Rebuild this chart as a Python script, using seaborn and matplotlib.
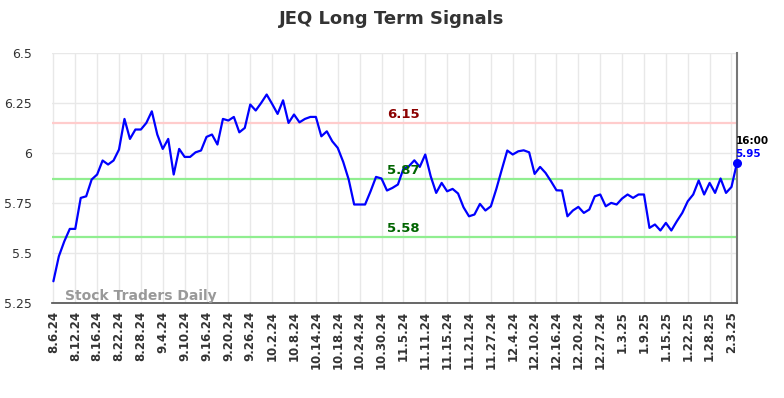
import matplotlib
matplotlib.use("Agg")
import matplotlib.pyplot as plt
import matplotlib.ticker as mticker
import seaborn as sns
import pandas as pd

title = "JEQ Long Term Signals"
prices = [
    5.358, 5.483, 5.558, 5.62, 5.62, 5.775, 5.783, 5.867, 5.892, 5.962,
    5.942, 5.962, 6.017, 6.17, 6.07, 6.117, 6.117, 6.15, 6.208, 6.092,
    6.02, 6.07, 5.892, 6.02, 5.98, 5.98, 6.003, 6.012, 6.08, 6.092,
    6.042, 6.17, 6.162, 6.18, 6.103, 6.125, 6.242, 6.212, 6.25, 6.292,
    6.245, 6.195, 6.263, 6.15, 6.192, 6.153, 6.17, 6.18, 6.18, 6.083,
    6.108, 6.058, 6.025, 5.955, 5.867, 5.742, 5.742, 5.742, 5.808, 5.88,
    5.872, 5.812, 5.825, 5.842, 5.92, 5.933, 5.963, 5.93, 5.992, 5.883,
    5.80, 5.85, 5.808, 5.82, 5.797, 5.728, 5.683, 5.692, 5.745, 5.712,
    5.733, 5.82, 5.917, 6.012, 5.992, 6.008, 6.013, 6.003, 5.895, 5.93,
    5.90, 5.858, 5.813, 5.812, 5.683, 5.712, 5.73, 5.70, 5.717, 5.783,
    5.792, 5.733, 5.75, 5.742, 5.772, 5.792, 5.775, 5.792, 5.792, 5.625,
    5.642, 5.612, 5.65, 5.612, 5.658, 5.70, 5.758, 5.792, 5.862, 5.792,
    5.85, 5.80, 5.872, 5.80, 5.83, 5.95,
]
tick_labels = [
    "8.6.24", "8.12.24", "8.16.24", "8.22.24", "8.28.24", "9.4.24", "9.10.24",
    "9.16.24", "9.20.24", "9.26.24", "10.2.24", "10.8.24", "10.14.24",
    "10.18.24", "10.24.24", "10.30.24", "11.5.24", "11.11.24", "11.15.24",
    "11.21.24", "11.27.24", "12.4.24", "12.10.24", "12.16.24", "12.20.24",
    "12.27.24", "1.3.25", "1.9.25", "1.15.25", "1.22.25", "1.28.25", "2.3.25",
]
tick_step = 4
resistance = 6.15
support_levels = [5.87, 5.58]
last_time = "16:00"
y_ticks = [5.25, 5.5, 5.75, 6.0, 6.25, 6.5]

df = pd.DataFrame({"idx": range(len(prices)), "price": prices})

sns.set_theme(style="whitegrid")
plt.rcParams["font.family"] = ["DejaVu Sans"]

fig = plt.figure(figsize=(7.84, 3.98), dpi=100)
ax = fig.add_axes([0.066, 0.239, 0.874, 0.628])

ax.axhline(resistance, color="#ffcccc", lw=1.6, zorder=1)
for s in support_levels:
    ax.axhline(s, color="#90ee90", lw=1.6, zorder=1)

sns.lineplot(data=df, x="idx", y="price", ax=ax, color="blue", lw=1.6, zorder=3)

n = len(prices)
last = n - 1
ax.scatter([last], [prices[-1]], color="blue", s=30, zorder=4, clip_on=False)

mid = 64
ax.text(mid, resistance + 0.008, f"{resistance:.2f}", color="darkred",
        fontsize=9.5, fontweight="bold", ha="center", va="bottom")
for s in support_levels:
    ax.text(mid, s + 0.008, f"{s:.2f}", color="darkgreen",
            fontsize=9.5, fontweight="bold", ha="center", va="bottom")

ax.annotate(last_time, (last, prices[-1]), xytext=(-1, 12),
            textcoords="offset points", color="black", fontsize=7.5,
            fontweight="bold", ha="left", va="bottom", annotation_clip=False)
ax.annotate(f"{prices[-1]:.2f}", (last, prices[-1]), xytext=(-1, 3),
            textcoords="offset points", color="blue", fontsize=7.5,
            fontweight="bold", ha="left", va="bottom", annotation_clip=False)

ax.set_xlim(-0.3, last)
ax.set_ylim(5.25, 6.5)
ax.set_yticks(y_ticks)
ax.yaxis.set_major_formatter(mticker.FuncFormatter(lambda v, p: f"{v:g}"))
ticks = list(range(0, n, tick_step))[:len(tick_labels)]
ax.set_xticks(ticks)
ax.set_xticklabels(tick_labels, rotation=90, fontsize=8.5, fontweight="bold",
                   color="#333333")
ax.tick_params(axis="y", labelsize=9, colors="#333333", length=0, pad=14)
ax.tick_params(axis="x", length=0, pad=6)
ax.set_xlabel("")
ax.set_ylabel("")
ax.grid(True, color="#e8e8e8", lw=1)
for side in ["top", "left"]:
    ax.spines[side].set_visible(False)
ax.spines["bottom"].set_visible(True)
ax.spines["bottom"].set_color("#555555")
ax.spines["right"].set_visible(True)
ax.spines["right"].set_color("#777777")
ax.spines["right"].set_linewidth(1.5)

ax.text(0.02, 0.0, "Stock Traders Daily", transform=ax.transAxes,
        color="#999999", fontsize=10, fontweight="bold", ha="left", va="bottom")

fig.suptitle(title, x=0.5, y=0.975, fontsize=13, fontweight="bold",
             color="#333333")

fig.savefig("out.png", dpi=100)
